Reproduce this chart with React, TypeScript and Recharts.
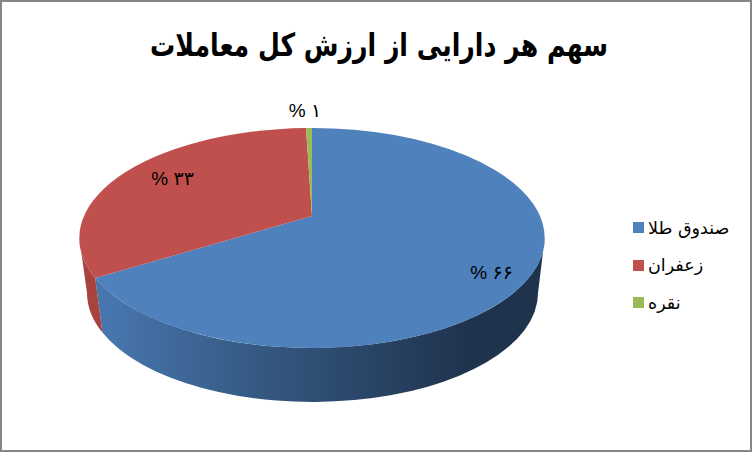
import React from "react";
import { PieChart, Pie, Legend } from "recharts";

const names = ["صندوق طلا", "زعفران", "نقره"];
const shares = [66.2, 33.3, 0.5];
const colors = ["#4f81bd", "#c0504d", "#9bbb59"];
const wallFills = ["url(#blueWall)", "#a8443f", "#7d9647"];

const tableData = names.map((name, i) => ({ name, value: shares[i], fill: colors[i] }));

// perspective of the tilted disc: apex is above the middle of the ellipse
const TILT = -0.2;
const APEX_Y = 216;
const CENTER_X = 312;
const TOP = { cx: 312, cy: 238, rx: 232.7, ry: 110 };
const BOTTOM = { cx: 312.5, cy: 293, rx: 225.5, ry: 109 };

const RAD = Math.PI / 180;

const rimPoint = (angle: number) => {
  const u = Math.cos(angle * RAD);
  const v = -Math.sin(angle * RAD);
  const w = 1 + TILT * v;
  return { x: CENTER_X + (228 * u) / w, y: APEX_Y + (105.6 * v) / w };
};

const ellipseAngle = (angle: number) => {
  const p = rimPoint(angle);
  return Math.atan2((p.y - TOP.cy) / TOP.ry, (p.x - TOP.cx) / TOP.rx) / RAD;
};

const onEllipse = (e: typeof TOP, phi: number) => ({
  x: e.cx + e.rx * Math.cos(phi * RAD),
  y: e.cy + e.ry * Math.sin(phi * RAD),
});

const SliceShape = (props: any) => {
  const { startAngle, endAngle, fill, index } = props;
  const a = rimPoint(startAngle);
  const b = rimPoint(endAngle);

  let phi1 = ellipseAngle(startAngle);
  let phi2 = ellipseAngle(endAngle);
  if (phi2 < phi1) phi2 += 360;
  if (phi1 > 180) {
    phi1 -= 360;
    phi2 -= 360;
  }
  const large = phi2 - phi1 > 180 ? 1 : 0;
  const top = `M${CENTER_X},${APEX_Y}L${a.x},${a.y}A${TOP.rx},${TOP.ry} 0 ${large} 1 ${b.x},${b.y}Z`;

  // only the front half of the rim shows a side wall
  const from = Math.max(phi1, 0);
  const to = Math.min(phi2, 180);
  let wall = null;
  if (to > from) {
    const t1 = onEllipse(TOP, from);
    const t2 = onEllipse(TOP, to);
    const b1 = onEllipse(BOTTOM, from);
    const b2 = onEllipse(BOTTOM, to);
    const d =
      `M${t1.x},${t1.y}A${TOP.rx},${TOP.ry} 0 0 1 ${t2.x},${t2.y}` +
      `L${b2.x},${b2.y}A${BOTTOM.rx},${BOTTOM.ry} 0 0 0 ${b1.x},${b1.y}Z`;
    wall = <path d={d} fill={wallFills[index]} />;
  }

  return (
    <g>
      {wall}
      <path d={top} fill={fill} />
    </g>
  );
};

const toPersian = (n: number) =>
  String(n).replace(/\d/g, (d) => "۰۱۲۳۴۵۶۷۸۹"[Number(d)]);

// nudges from the slice's mid rim point, Excel places these by hand
const labelNudge = [
  { dx: -41, dy: 1 },
  { dx: 44, dy: 10 },
  { dx: -4, dy: -16 },
];

const PercentLabel = (props: any) => {
  const { midAngle, value, index } = props;
  const p = rimPoint(midAngle);
  return (
    <text
      x={p.x + labelNudge[index].dx}
      y={p.y + labelNudge[index].dy}
      textAnchor="middle"
      dominantBaseline="middle"
      direction="ltr"
      fontFamily="'Liberation Sans', 'DejaVu Sans', sans-serif"
      fontSize={19}
      fill="#000"
    >
      {`% ${toPersian(Math.round(value))}`}
    </text>
  );
};

const LegendRows = () => (
  <div style={{ fontFamily: "'DejaVu Sans', sans-serif", fontSize: 17.5 }}>
    {names.map((name, i) => (
      <div key={name} style={{ display: "flex", alignItems: "center", height: 37.5 }}>
        <span style={{ width: 11, height: 11, background: colors[i], marginRight: 4 }} />
        <span style={{ direction: "rtl", color: "#000" }}>{name}</span>
      </div>
    ))}
  </div>
);

export default function App() {
  return (
    <div style={{ position: "absolute", left: 0, top: 0, width: 752, height: 452, background: "#fff" }}>
      <PieChart width={752} height={452} margin={{ top: 0, right: 0, bottom: 0, left: 0 }}>
        <defs>
          <linearGradient id="blueWall" gradientUnits="userSpaceOnUse" x1="100" y1="0" x2="470" y2="0">
            <stop offset="0" stopColor="#4877b0" />
            <stop offset="0.45" stopColor="#345780" />
            <stop offset="1" stopColor="#1f334d" />
          </linearGradient>
        </defs>
        <rect x={1} y={1} width={750} height={450} fill="none" stroke="#868686" strokeWidth={2} />
        <text
          x={379}
          y={47}
          textAnchor="middle"
          dominantBaseline="middle"
          direction="rtl"
          fontFamily="'DejaVu Sans', sans-serif"
          fontWeight="bold"
          fontSize={32}
          textLength={458}
          lengthAdjust="spacingAndGlyphs"
          fill="#000"
        >
          سهم هر دارایی از ارزش کل معاملات
        </text>
        <Pie
          data={tableData}
          dataKey="value"
          nameKey="name"
          cx={CENTER_X}
          cy={APEX_Y}
          outerRadius={100}
          startAngle={90}
          endAngle={-270}
          stroke="none"
          shape={SliceShape}
          label={PercentLabel}
          labelLine={false}
          isAnimationActive={false}
        />
        <Legend
          content={LegendRows}
          wrapperStyle={{ position: "absolute", left: 633, top: 209, width: 115, bottom: "auto", right: "auto" }}
        />
      </PieChart>
    </div>
  );
}
